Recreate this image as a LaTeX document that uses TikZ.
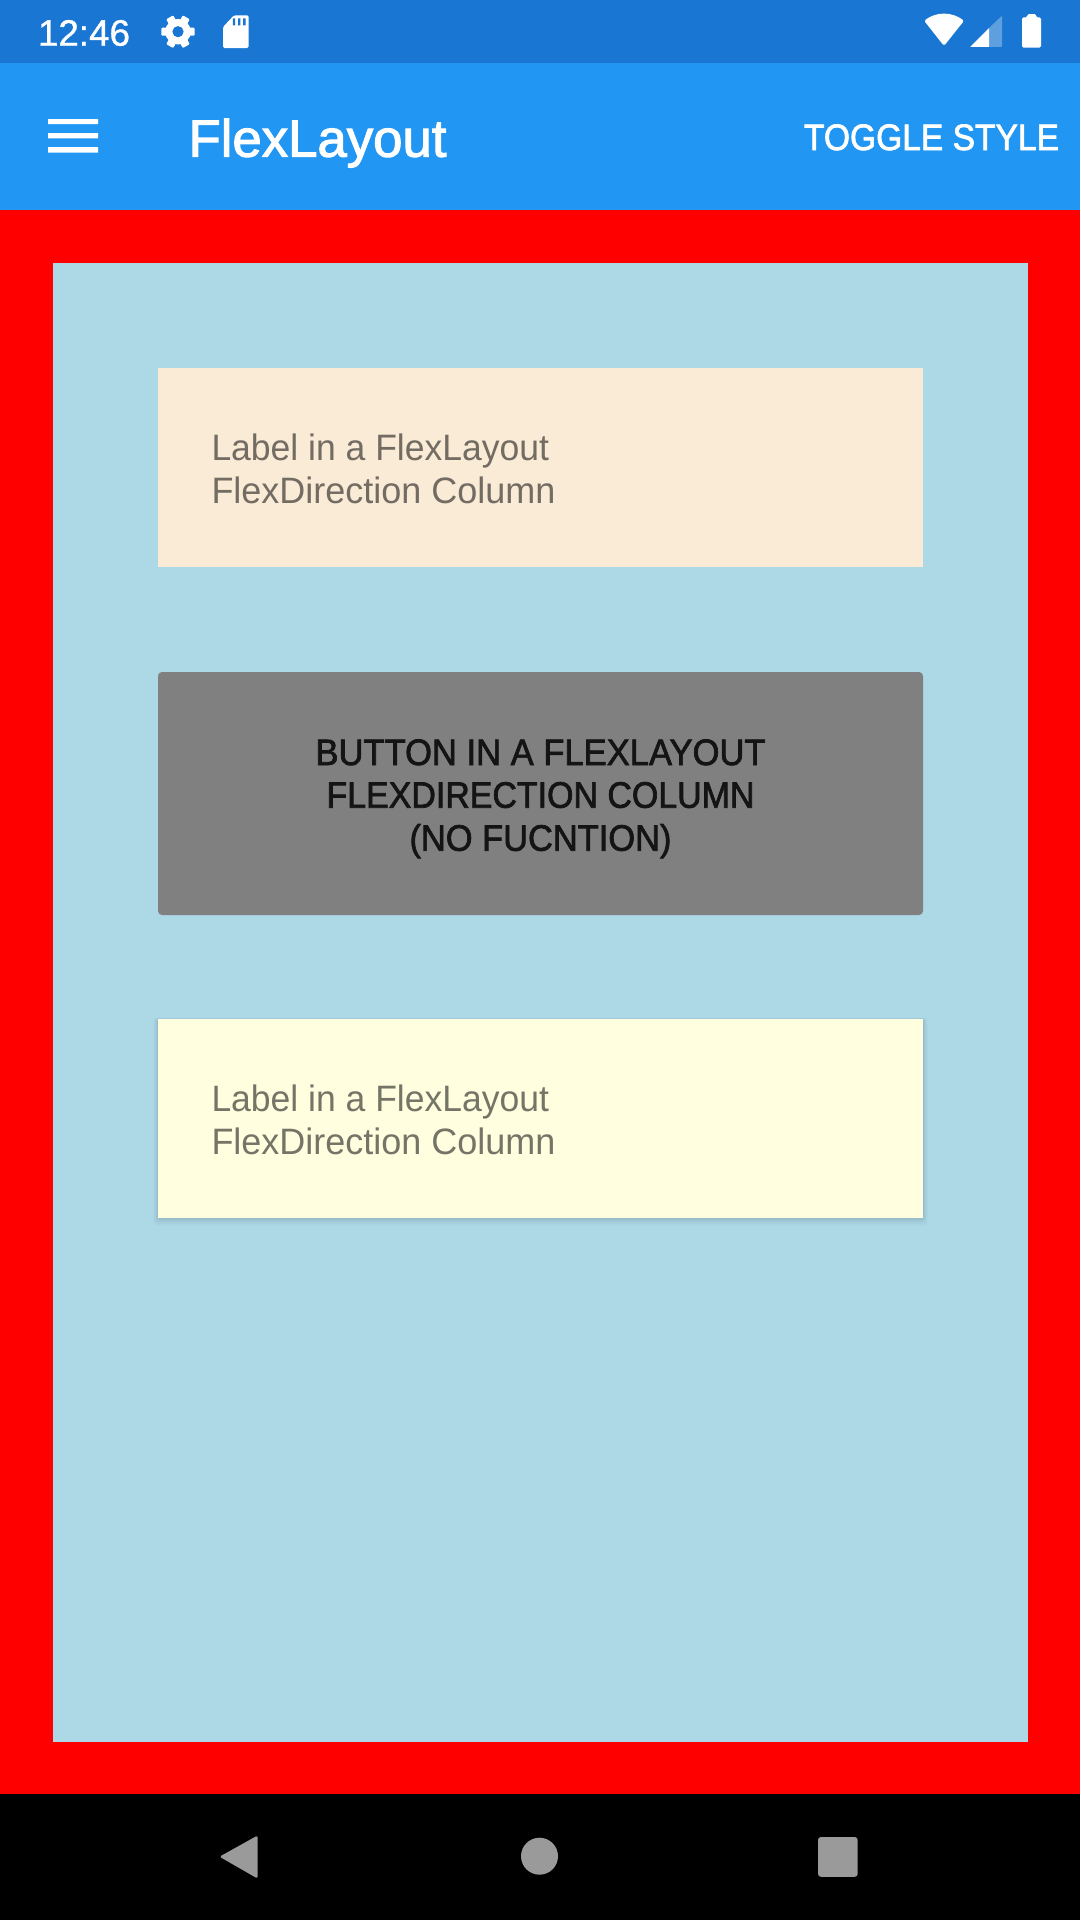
\documentclass[tikz,border=0pt]{standalone}
\usepackage{fontspec}
\usepackage{graphicx}
\setmainfont{Liberation Sans}
\newfontfamily\medfont[FakeBold=2]{Liberation Sans}
\newfontfamily\clockfont[FakeBold=1]{Liberation Sans}
\definecolor{statusblue}{HTML}{1976D2}
\definecolor{barblue}{HTML}{2196F3}
\definecolor{pageblue}{HTML}{ADD8E6}
\definecolor{pagered}{HTML}{FF0000}
\definecolor{cardtan}{HTML}{FAEBD7}
\definecolor{cardyellow}{HTML}{FFFFE0}
\definecolor{btngrey}{HTML}{808080}
\definecolor{btntext}{HTML}{141414}
\definecolor{tantext}{HTML}{736C63}
\definecolor{yellowtext}{HTML}{757567}
\definecolor{navgrey}{HTML}{9A9A9A}
\newcommand{\fw}[2]{\resizebox{#1pt}{\height}{#2}}
\tikzset{
  txt/.style={inner sep=0pt,outer sep=0pt,anchor=base west},
  labeltext/.style={inner sep=0pt,outer sep=0pt,anchor=base west,font=\fontsize{36.75}{43}\selectfont},
  btnline/.style={inner sep=0pt,outer sep=0pt,anchor=base,text=btntext,font=\medfont\fontsize{36.75}{43}\selectfont},
  icon/.style={fill=white,draw=none},
}
\begin{document}
\begin{tikzpicture}[x=1pt,y=-1pt]
\useasboundingbox (0,0) rectangle (1080,1920);
% bands
\fill[statusblue] (0,0) rectangle (1080,63);
\fill[barblue] (0,63) rectangle (1080,210);
\fill[pagered] (0,210) rectangle (1080,1794);
\fill[black] (0,1794) rectangle (1080,1920);
\fill[pageblue] (53,263) rectangle (1027.5,1742);
% cards
\fill[cardtan] (158,368) rectangle (923,567);
\fill[btngrey,rounded corners=4pt] (158,672) rectangle (923,915);
\foreach \o/\a in {6/.01,5/.012,4/.015,3/.02,2/.025,1/.03}{
  \fill[black,opacity=\a,rounded corners=3pt] (158-\o*.8,1019-\o*.25) rectangle (923+\o*.8,1218+\o*1.3);
}
\fill[cardyellow] (158,1019) rectangle (923,1218);
% status bar text and icons
\node[txt,text=white,font=\clockfont\fontsize{36.75}{43}\selectfont] (clock) at (38,45.7) {\fw{92}{12:46}};
\begin{scope}[shift={(178,31.7)}]
  \fill[white] (0,0) circle (12.8);
  \foreach \a in {30,90,150,210,270,330}{
    \fill[white,rotate=\a,rounded corners=1pt] (-4,-9) rectangle (4,-16.6);
  }
  \fill[statusblue] (0,0) circle (5.6);
\end{scope}
\path[icon,rounded corners=1.5pt] (223,27) -- (234,15.3) -- (248.6,15.3) -- (248.6,48) -- (223,48) -- cycle;
\fill[statusblue] (232.8,18.3) rectangle (235.2,25.3) (238,18.3) rectangle (240.4,25.3) (243.2,18.3) rectangle (245.6,25.3);
\path[icon,rounded corners=1.5pt] (944,45.9) -- (924.2,20.8) .. controls (936,11.5) and (952,11.5) .. (964,20.8) -- cycle;
\path[icon,rounded corners=.4pt] (970.2,46.9) -- (989,28) -- (989,46.9) -- cycle;
\path[fill=white,fill opacity=.3,rounded corners=.8pt] (989,28) -- (1002,15.7) -- (1002,46.9) -- (989,46.9) -- cycle;
\path[icon,rounded corners=1.5pt] (1022,17.3) -- (1027.3,17.3) -- (1027.3,14) -- (1036,14) -- (1036,17.3) -- (1041,17.3) -- (1041,47.7) -- (1022,47.7) -- cycle;
% app bar
\fill[white] (48,119) rectangle (98,124.2) (48,133.2) rectangle (98,138.4) (48,147) rectangle (98,152.6);
\node[txt,text=white,font=\medfont\fontsize{52.5}{60}\selectfont] (title) at (188.5,156.7) {\fw{258}{FlexLayout}};
\node[txt,text=white,font=\medfont\fontsize{36.75}{43}\selectfont] (toggle) at (804,150) {\fw{255}{TOGGLE STYLE}};
% card 1 text
\node[labeltext,text=tantext] (l1a) at (211.5,460) {\fw{337.5}{Label in a FlexLayout}};
\node[labeltext,text=tantext] (l1b) at (211.5,503.2) {\fw{344}{FlexDirection Column}};
% button text
\node[btnline] (b1) at (540.5,765) {\fw{450}{BUTTON IN A FLEXLAYOUT}};
\node[btnline] (b2) at (540.5,807.7) {\fw{428}{FLEXDIRECTION COLUMN}};
\node[btnline] (b3) at (540.5,850.7) {\fw{262}{(NO FUCNTION)}};
% card 3 text
\node[labeltext,text=yellowtext] (l3a) at (211.5,1111) {\fw{337.5}{Label in a FlexLayout}};
\node[labeltext,text=yellowtext] (l3b) at (211.5,1154.2) {\fw{344}{FlexDirection Column}};
% nav bar
\fill[navgrey,rounded corners=1.5pt] (219.5,1856.7) -- (257.5,1835.5) -- (257.5,1878.5) -- cycle;
\fill[navgrey] (539.5,1856.2) circle (18.5);
\fill[navgrey,rounded corners=3pt] (818,1837) rectangle (857.7,1876.8);
\end{tikzpicture}
\end{document}
